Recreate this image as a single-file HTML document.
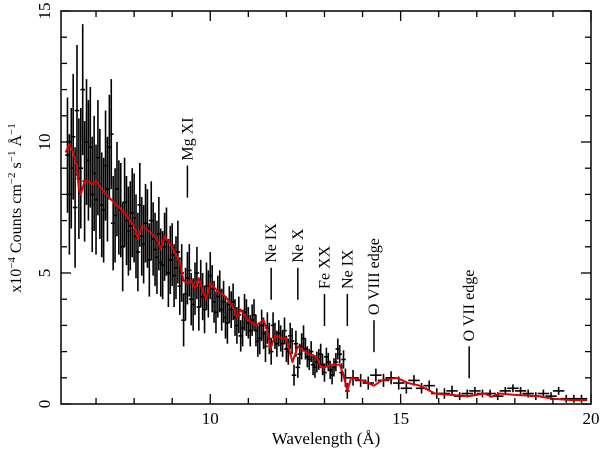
<!DOCTYPE html>
<html><head><meta charset="utf-8"><style>
body{margin:0;background:#fff;}
svg{display:block;font-family:"Liberation Serif",serif;}
</style></head><body>
<svg id="chart" width="600" height="450" viewBox="0 0 600 450" xmlns="http://www.w3.org/2000/svg">
<g id="data-layer"></g>
<g id="model-layer"></g>
<g id="lines-layer"></g>
<rect x="61" y="11" width="530" height="393" fill="none" stroke="#000" stroke-width="1.5"/>
<g id="axes-layer"></g>
<text x="326" y="444" font-size="17" text-anchor="middle">Wavelength (Å)</text>
<text transform="translate(21,208) rotate(-90)" font-size="16" text-anchor="middle">x10<tspan font-size="11" dy="-6">−4</tspan><tspan dy="6"> Counts cm</tspan><tspan font-size="11" dy="-6">−2</tspan><tspan dy="6"> s</tspan><tspan font-size="11" dy="-6">−1</tspan><tspan dy="6"> Å</tspan><tspan font-size="11" dy="-6">−1</tspan></text>
</svg>
<script>
const dataX = [6.25,6.3,6.35,6.4,6.45,6.5,6.55,6.6,6.65,6.7,6.75,6.8,6.85,6.9,6.95,7.0,7.05,7.1,7.15,7.2,7.25,7.3,7.35,7.4,7.45,7.5,7.6,7.7,7.8,7.9,8.0,8.1,8.2,8.3,8.4,8.5,8.6,8.7,8.8,8.9,9.0,9.1,9.2,9.3,9.4,9.5,9.6,9.7,9.8,9.9,10.0,10.1,10.2,10.3,10.4,10.5,10.6,10.7,10.8,10.9,11.0,11.1,11.2,11.3,11.4,11.5,11.6,11.7,11.8,11.9,12.0,12.1,12.2,12.3,12.4,12.5,12.6,12.7,12.8,12.9,13.0,13.1,13.2,13.3,13.4,13.5,13.6,13.75,13.95,14.15,14.35,14.55,14.75,14.95,15.15,15.35,15.55,15.75,15.95,16.15,16.35,16.55,16.75,16.95,17.15,17.35,17.55,17.75,17.95,18.15,18.35,18.55,18.75,18.95,19.15,19.35,19.55,19.75,
7.55,7.65,7.75,7.85,7.95,8.05,8.15,8.25,8.35,8.45,8.55,8.65,8.75,8.85,8.95,9.05,9.15,9.25,9.35,9.45,9.55,9.65,9.75,9.85,9.95,10.05,10.15,10.25,10.35,10.45,10.55,10.65,10.75,10.85,10.95,11.05,11.15,11.25,11.35,11.45,11.55,11.65,11.75,11.85,11.95,12.05,12.15,12.25,12.35,12.45,12.55,12.65,12.75,12.85,12.95,13.05,13.15,13.25,13.35,13.45,13.55];
const dataY = [9.5,8.0,9.0,10.2,7.5,11.2,8.6,9.0,12.0,8.5,10.0,9.3,9.8,8.0,8.8,7.8,9.4,8.4,7.6,7.4,9.1,8.2,9.8,10.3,6.9,7.2,7.5,6.0,7.0,6.8,7.1,5.8,6.4,6.9,5.5,6.3,5.6,5.4,6.0,5.0,5.7,5.2,4.5,3.2,4.8,4.0,4.4,3.7,4.1,4.5,4.9,3.9,4.1,3.6,3.3,3.8,3.9,3.0,2.6,3.5,3.1,3.2,2.8,2.5,2.7,2.9,2.0,2.6,2.7,2.3,2.1,2.6,1.1,1.4,2.2,2.1,1.7,1.5,1.6,1.9,1.2,1.6,1.1,1.6,1.9,1.7,0.5,1.0,0.9,0.8,1.1,0.9,1.0,0.8,0.6,0.9,0.6,0.7,0.4,0.4,0.5,0.3,0.4,0.5,0.4,0.4,0.3,0.5,0.6,0.5,0.4,0.3,0.4,0.3,0.5,0.2,0.2,0.2,
8.2,7.4,7.7,6.6,7.3,6.4,7.6,6.1,6.7,7.0,5.9,6.5,5.3,6.2,5.5,4.9,5.8,5.0,4.2,5.1,3.8,5.0,4.6,3.6,4.2,4.4,3.5,4.3,3.9,3.1,3.6,3.3,3.4,2.9,3.3,2.8,3.4,2.4,3.0,2.2,2.5,3.0,2.3,2.5,2.8,2.0,2.4,2.3,1.9,2.5,1.8,2.0,1.4,1.7,1.5,1.8,1.3,1.4,2.1,1.2,1.0];
const dataErr = [2.2,2.3,2.3,2.4,2.3,2.5,2.3,2.3,2.5,2.3,2.4,2.3,2.3,2.2,2.2,2.1,2.2,2.1,2.0,2.0,2.1,2.0,2.0,2.1,1.8,1.8,1.8,1.7,1.7,1.7,1.7,1.5,1.5,1.5,1.4,1.4,1.4,1.3,1.3,1.3,1.2,1.2,1.1,1.0,1.0,1.0,1.0,0.9,0.9,0.9,0.9,0.8,0.8,0.8,0.8,0.7,0.7,0.7,0.6,0.7,0.6,0.6,0.6,0.6,0.6,0.6,0.5,0.5,0.5,0.5,0.5,0.5,0.4,0.4,0.5,0.4,0.4,0.4,0.4,0.4,0.35,0.35,0.35,0.35,0.35,0.35,0.3,0.3,0.25,0.25,0.25,0.25,0.25,0.25,0.2,0.2,0.2,0.2,0.2,0.2,0.2,0.15,0.15,0.15,0.15,0.15,0.15,0.15,0.15,0.15,0.15,0.15,0.15,0.15,0.15,0.15,0.15,0.15,
1.8,1.8,1.7,1.7,1.7,1.6,1.6,1.5,1.5,1.5,1.4,1.4,1.3,1.3,1.3,1.2,1.2,1.1,1.0,1.0,1.0,1.0,0.9,0.9,0.9,0.9,0.8,0.8,0.8,0.8,0.7,0.7,0.7,0.7,0.7,0.6,0.6,0.6,0.6,0.6,0.6,0.5,0.5,0.5,0.5,0.5,0.5,0.5,0.4,0.5,0.4,0.4,0.4,0.4,0.4,0.35,0.35,0.35,0.4,0.35,0.35];
const modelX = [6.2,6.3,6.4,6.5,6.55,6.6,6.7,6.8,6.9,7.0,7.1,7.2,7.4,7.6,7.8,8.0,8.1,8.2,8.4,8.6,8.7,8.8,9.0,9.2,9.3,9.4,9.5,9.6,9.7,9.8,9.9,10.0,10.2,10.4,10.6,10.7,10.8,11.0,11.2,11.4,11.5,11.58,11.7,11.9,12.0,12.16,12.3,12.4,12.6,12.8,12.9,13.0,13.2,13.4,13.5,13.6,13.7,14.0,14.3,14.5,14.9,15.2,15.5,15.9,16.3,16.8,17.2,17.4,17.6,18.0,18.6,19.0,19.5,19.9];
const modelY = [9.6,9.9,9.6,9.0,8.2,8.0,8.5,8.5,8.4,8.5,8.3,8.1,7.8,7.5,7.2,6.8,6.3,6.8,6.6,6.3,5.9,6.4,6.0,5.4,4.7,4.6,4.7,4.4,4.8,4.3,4.0,4.6,4.3,4.1,3.7,3.3,3.6,3.2,3.0,3.2,2.8,2.1,2.6,2.5,2.5,1.6,2.2,2.1,1.9,1.8,1.4,1.4,1.5,1.5,1.1,0.5,1.0,0.9,0.7,0.9,1.0,0.8,0.7,0.4,0.35,0.3,0.4,0.28,0.4,0.35,0.3,0.2,0.15,0.15];
const lineNames = ["Mg XI","Ne IX","Ne X","Fe XX","Ne IX","O VIII edge","O VII edge"];
const lineX = [9.4,11.6,12.3,13.0,13.6,14.3,16.8];
const lineTop = [9.1,5.2,5.2,4.2,4.2,3.2,2.2];
const xTicks = [10,15,20];
const yTicks = [0,5,10,15];

const NS="http://www.w3.org/2000/svg";
const X0=61,X1=591,Y0=404,Y1=11, XMIN=6.08,XMAX=20,YMIN=0,YMAX=15;
const sx=v=>X0+(v-XMIN)/(XMAX-XMIN)*(X1-X0);
const sy=v=>Y0-(v-YMIN)/(YMAX-YMIN)*(Y0-Y1);
function mk(tag,attrs,parent){const e=document.createElementNS(NS,tag);for(const k in attrs)e.setAttribute(k,attrs[k]);parent.appendChild(e);return e;}

const dl=document.getElementById('data-layer');
for(let i=0;i<dataX.length;i++){
  const g=mk('g',{},dl);
  
  
  const x=sx(dataX[i]),y=sy(dataY[i]);
  const hw=dataX[i]>13.7?0.15:0.06;
  mk('line',{x1:x,x2:x,y1:sy(Math.max(0,dataY[i]-dataErr[i])),y2:sy(dataY[i]+dataErr[i]),stroke:'#000','stroke-width':1.6},g);
  mk('line',{x1:sx(dataX[i]-hw),x2:sx(dataX[i]+hw),y1:y,y2:y,stroke:'#000','stroke-width':1.6},g);
}
const ml=document.getElementById('model-layer');
const pl=mk('polyline',{points:modelX.map((v,i)=>sx(v)+','+sy(modelY[i])).join(' '),fill:'none',stroke:'#e00000','stroke-width':2,'stroke-linejoin':'round'},ml);



const ll=document.getElementById('lines-layer');
for(let i=0;i<lineNames.length;i++){
  const x=sx(lineX[i]),yt=sy(lineTop[i]);
  const l=mk('line',{x1:x,x2:x,y1:yt,y2:yt+32,stroke:'#000','stroke-width':1.5},ll);
  
  
  const t=mk('text',{transform:`translate(${x+5},${yt-5}) rotate(-90)`,'font-size':16},ll);
  t.textContent=lineNames[i];
  
  
}

const al=document.getElementById('axes-layer');
for(let v=7;v<=20;v++){
  const x=sx(v),L=(v%5===0)?10:6;
  mk('line',{x1:x,x2:x,y1:Y0,y2:Y0-L,stroke:'#000','stroke-width':1.3},al);
  mk('line',{x1:x,x2:x,y1:Y1,y2:Y1+L,stroke:'#000','stroke-width':1.3},al);
}
for(let v=0;v<=15;v++){
  const y=sy(v),L=(v%5===0)?10:6;
  mk('line',{x1:X0,x2:X0+L,y1:y,y2:y,stroke:'#000','stroke-width':1.3},al);
  mk('line',{x1:X1,x2:X1-L,y1:y,y2:y,stroke:'#000','stroke-width':1.3},al);
}
xTicks.forEach(v=>{
  const t=mk('text',{x:sx(v),y:424,'font-size':17,'text-anchor':'middle'},al);
  t.textContent=v;
  
  
});
yTicks.forEach(v=>{
  const t=mk('text',{transform:`translate(50,${sy(v)}) rotate(-90)`,'font-size':17,'text-anchor':'middle'},al);
  t.textContent=v;
  
  
});
</script>
</body></html>
